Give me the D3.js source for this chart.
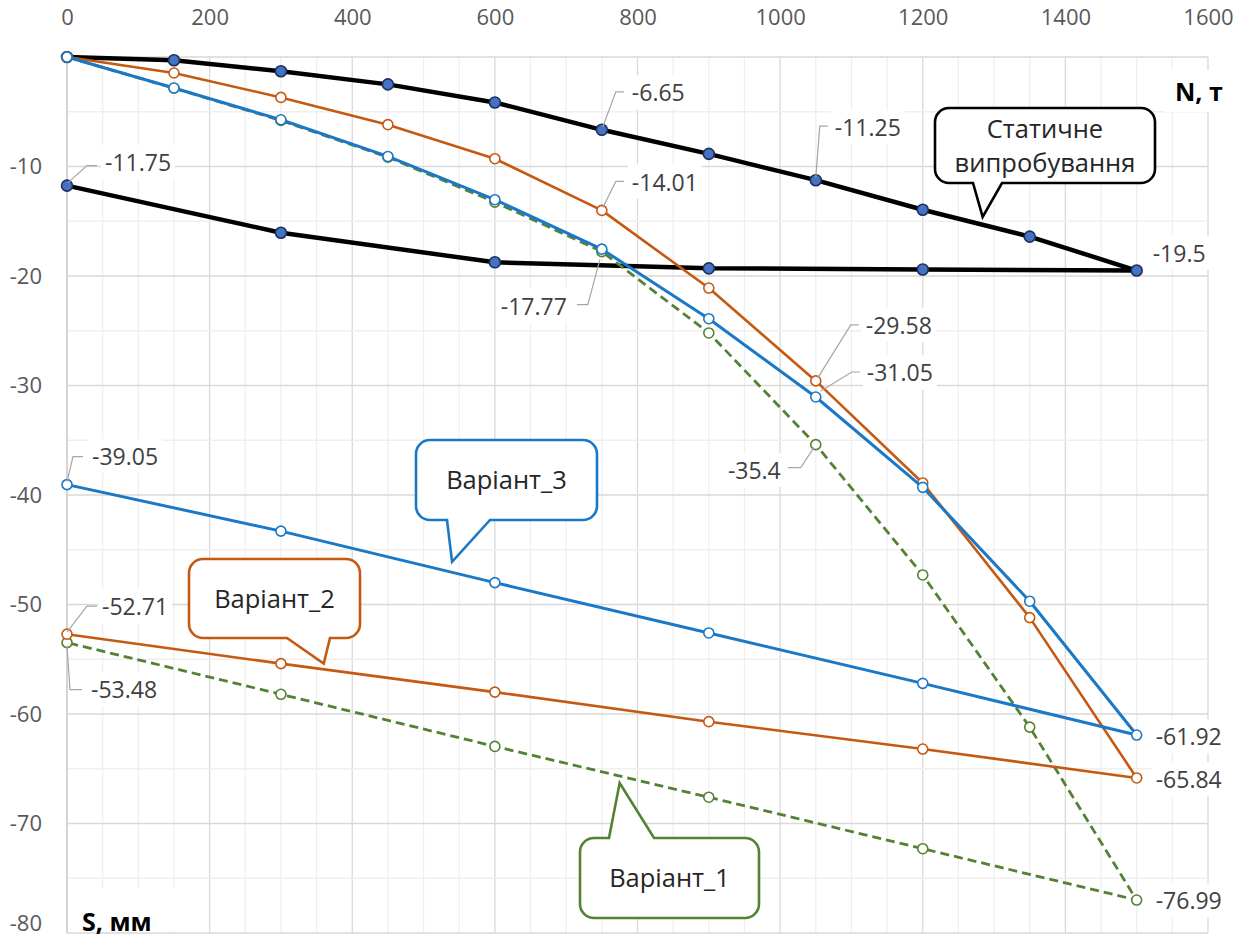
<!DOCTYPE html>
<html>
<head>
<meta charset="utf-8">
<script src="https://cdn.jsdelivr.net/npm/d3@7/dist/d3.min.js"></script>
<style>
  html, body { margin: 0; padding: 0; background: #fff; }
  svg { display: block; font-family: "Open Sans", "Noto Sans", sans-serif; }
</style>
</head>
<body>
<svg id="chart" width="1242" height="940"></svg>
<script>
// Load N, т (loading branch, then unloading branch)
const loadN   = [0, 150, 300, 450, 600, 750, 900, 1050, 1200, 1350, 1500];
const unloadN = [1500, 1200, 900, 600, 300, 0];

// Settlement S, мм
const staticLoad   = [0, -0.3, -1.3, -2.5, -4.15, -6.65, -8.85, -11.25, -13.95, -16.4, -19.5];
const staticUnload = [-19.5, -19.4, -19.3, -18.75, -16.05, -11.75];
const var1Load     = [0, -2.85, -5.8, -9.15, -13.25, -17.77, -25.2, -35.4, -47.3, -61.2, -76.99];
const var1Unload   = [-76.99, -72.3, -67.6, -62.96, -58.2, -53.48];
const var2Load     = [0, -1.46, -3.69, -6.18, -9.29, -14.01, -21.1, -29.58, -38.9, -51.2, -65.84];
const var2Unload   = [-65.84, -63.2, -60.7, -58.0, -55.4, -52.71];
const var3Load     = [0, -2.83, -5.73, -9.08, -13.03, -17.55, -23.9, -31.05, -39.3, -49.7, -61.92];
const var3Unload   = [-61.92, -57.2, -52.6, -48.0, -43.3, -39.05];

const xTicks = [0, 200, 400, 600, 800, 1000, 1200, 1400, 1600];
const yTicks = [-10, -20, -30, -40, -50, -60, -70, -80];

const svg = d3.select("#chart");
const x = d3.scaleLinear().domain([0, 1600]).range([67, 1208]);
const y = d3.scaleLinear().domain([-80, 0]).range([933, 57]);

function pts(ns, ss) { return ns.map((n, i) => ({ n, s: ss[i] })); }

const series = [
  { key: "static", pts: pts(loadN, staticLoad).concat(pts(unloadN, staticUnload).slice(1)),
    color: "#000000", width: 4.5, dash: null, fill: "#4472C4", mstroke: "#1f2f5a", r: 5.5 },
  { key: "v1", pts: pts(loadN, var1Load).concat(pts(unloadN, var1Unload).slice(1)),
    color: "#548235", width: 2.8, dash: "9,5", fill: "#fff", mstroke: "#548235", r: 5 },
  { key: "v2", pts: pts(loadN, var2Load).concat(pts(unloadN, var2Unload).slice(1)),
    color: "#C65911", width: 2.6, dash: null, fill: "#fff", mstroke: "#C65911", r: 5 },
  { key: "v3", pts: pts(loadN, var3Load).concat(pts(unloadN, var3Unload).slice(1)),
    color: "#1B78C6", width: 3, dash: null, fill: "#fff", mstroke: "#1B78C6", r: 5 }
];

// Gridlines
const grid = svg.append("g");
d3.range(0, 1601, 50).forEach(v => {
  grid.append("line").attr("x1", x(v)).attr("x2", x(v)).attr("y1", y(0)).attr("y2", y(-80))
    .attr("stroke", v % 200 === 0 ? "#d9d9d9" : "#efefef").attr("stroke-width", 1.3);
});
d3.range(0, -81, -5).forEach(v => {
  grid.append("line").attr("x1", x(0)).attr("x2", x(1600)).attr("y1", y(v)).attr("y2", y(v))
    .attr("stroke", v % 10 === 0 ? "#d9d9d9" : "#efefef").attr("stroke-width", 1.3);
});
// left axis line
svg.append("line").attr("x1", x(0)).attr("x2", x(0)).attr("y1", y(0)).attr("y2", y(-80))
  .attr("stroke", "#cfcfcf").attr("stroke-width", 1.5);

// Axes
const xAxis = svg.append("g").attr("transform", `translate(0,${y(0)})`)
  .call(d3.axisTop(x).tickValues(xTicks).tickSize(0).tickPadding(32).tickFormat(d => String(d)));
const yAxis = svg.append("g").attr("transform", `translate(${x(0)},0)`)
  .call(d3.axisLeft(y).tickValues(yTicks).tickSize(0).tickPadding(25).tickFormat(d => String(d)));
[xAxis, yAxis].forEach(a => {
  a.select(".domain").remove();
  a.selectAll("text").attr("fill", "#595959").style("font-size", "22px")
    .style("font-family", "'Open Sans', sans-serif");
});
// keep the lowest tick label inside the frame
yAxis.selectAll(".tick").filter(d => d === -80).select("text").attr("dy", "-0.12em");

// Axis titles with white backgrounds
svg.append("rect").attr("x", 68).attr("y", 888).attr("width", 124).attr("height", 44).attr("fill", "#fff");
svg.append("text").attr("x", 82).attr("y", 931).text("S, мм")
  .attr("font-size", 25).attr("font-weight", "bold").attr("fill", "#000");
svg.append("rect").attr("x", 1165).attr("y", 70).attr("width", 77).attr("height", 42).attr("fill", "#fff");
svg.append("text").attr("x", 1175).attr("y", 101).text("N, т")
  .attr("font-size", 25).attr("font-weight", "bold").attr("fill", "#000");

// Series lines and markers
const line = d3.line().x(d => x(d.n)).y(d => y(d.s));
series.forEach(s => {
  svg.append("path").datum(s.pts).attr("d", line).attr("fill", "none")
    .attr("stroke", s.color).attr("stroke-width", s.width)
    .attr("stroke-dasharray", s.dash).attr("stroke-linejoin", "round");
  svg.append("g").selectAll("circle").data(s.pts).join("circle")
    .attr("cx", d => x(d.n)).attr("cy", d => y(d.s)).attr("r", s.r)
    .attr("fill", s.fill).attr("stroke", s.mstroke).attr("stroke-width", 1.6);
});

// Data labels: series key, point index, text offset and leader path offsets
const byKey = Object.fromEntries(series.map(s => [s.key, s]));
const labels = [
  { k: "static", i: 15, dx: 38, dy: -23, anchor: "start", leader: [[1, -3], [20, -20], [30, -20]] },
  { k: "static", i: 5,  dx: 30, dy: -37, anchor: "start", leader: [[1, -3], [14, -38], [22, -38]] },
  { k: "v2",     i: 5,  dx: 30, dy: -28, anchor: "start", leader: [[1, -3], [14, -29], [22, -29]] },
  { k: "static", i: 7,  dx: 19, dy: -52, anchor: "start", leader: [[0, -3], [4, -54], [12, -54]] },
  { k: "static", i: 10, dx: 16, dy: -17, anchor: "start" },
  { k: "v1",     i: 5,  dx: -35, dy: 55, anchor: "end", leader: [[-2, 8], [-14, 53], [-25, 53]] },
  { k: "v2",     i: 7,  dx: 50, dy: -55, anchor: "start", leader: [[2, -3], [35, -56], [43, -56]] },
  { k: "v3",     i: 7,  dx: 51, dy: -24, anchor: "start", leader: [[5, -6], [36, -25], [44, -25]] },
  { k: "v1",     i: 7,  dx: -35, dy: 26, anchor: "end", leader: [[-2, 3], [-15, 23], [-28, 23]] },
  { k: "v3",     i: 15, dx: 25, dy: -28, anchor: "start", leader: [[0, -3], [6, -28], [16, -28]] },
  { k: "v2",     i: 15, dx: 35, dy: -27, anchor: "start", leader: [[0, -2], [20, -28], [30, -28]] },
  { k: "v1",     i: 15, dx: 24, dy: 47, anchor: "start", leader: [[0, 3], [3, 47], [15, 47]] },
  { k: "v3",     i: 10, dx: 19, dy: 2, anchor: "start" },
  { k: "v2",     i: 10, dx: 19, dy: 2, anchor: "start" },
  { k: "v1",     i: 10, dx: 19, dy: 1, anchor: "start" }
];
const labelLayer = svg.append("g");
labels.forEach(l => {
  const p = byKey[l.k].pts[l.i];
  const px = x(p.n), py = y(p.s);
  const g = labelLayer.append("g");
  const t = g.append("text").attr("x", px + l.dx).attr("y", py + l.dy).attr("dy", "0.36em")
    .attr("text-anchor", l.anchor).attr("font-size", 23).attr("fill", "#404040").text(String(p.s));
  const bb = t.node().getBBox();
  g.insert("rect", "text").attr("x", bb.x - 4).attr("y", bb.y - 1).attr("width", bb.width + 8)
    .attr("height", bb.height + 2).attr("fill", "#fff");
  if (l.leader) {
    labelLayer.append("path")
      .attr("d", d3.line()(l.leader.map(([a, b]) => [px + a, py + b])))
      .attr("fill", "none").attr("stroke", "#a6a6a6").attr("stroke-width", 1.2);
  }
});

// Callouts: rounded box with a pointer to a location on the curve (tip given in data units)
const callouts = [
  { lines: ["Статичне", "випробування"], color: "#000000", box: [935, 108, 220, 75], side: "bottom",
    base: [973, 1002], tip: { n: 1284, s: -14.6 } },
  { lines: ["Варіант_3"], color: "#1B78C6", box: [416, 440, 181, 80], side: "bottom",
    base: [447, 490], tip: { n: 540, s: -46.1 } },
  { lines: ["Варіант_2"], color: "#C65911", box: [189, 559, 171, 79], side: "bottom",
    base: [287, 330], tip: { n: 360, s: -55.4 } },
  { lines: ["Варіант_1"], color: "#548235", box: [580, 838, 179, 80], side: "top",
    base: [609, 654], tip: { n: 775, s: -66.3 } }
];
function calloutPath(c) {
  const [bx, by, bw, bh] = c.box, r = 14;
  const tx = x(c.tip.n), ty = y(c.tip.s);
  const p = d3.path();
  p.moveTo(bx + r, by);
  if (c.side === "top") { p.lineTo(c.base[0], by); p.lineTo(tx, ty); p.lineTo(c.base[1], by); }
  p.lineTo(bx + bw - r, by);
  p.arcTo(bx + bw, by, bx + bw, by + r, r);
  p.lineTo(bx + bw, by + bh - r);
  p.arcTo(bx + bw, by + bh, bx + bw - r, by + bh, r);
  if (c.side === "bottom") { p.lineTo(c.base[1], by + bh); p.lineTo(tx, ty); p.lineTo(c.base[0], by + bh); }
  p.lineTo(bx + r, by + bh);
  p.arcTo(bx, by + bh, bx, by + bh - r, r);
  p.lineTo(bx, by + r);
  p.arcTo(bx, by, bx + r, by, r);
  p.closePath();
  return p.toString();
}
callouts.forEach(c => {
  svg.append("path").attr("d", calloutPath(c)).attr("fill", "#fff")
    .attr("stroke", c.color).attr("stroke-width", 2.6).attr("stroke-linejoin", "miter");
  const [bx, by, bw, bh] = c.box;
  const lh = 34;
  const y0 = by + bh / 2 - (c.lines.length - 1) * lh / 2;
  c.lines.forEach((txt, i) => {
    svg.append("text").attr("x", bx + bw / 2).attr("y", y0 + i * lh).attr("dy", "0.36em")
      .attr("text-anchor", "middle").attr("font-size", 25.5).attr("fill", "#262626").text(txt);
  });
});
</script>
</body>
</html>
